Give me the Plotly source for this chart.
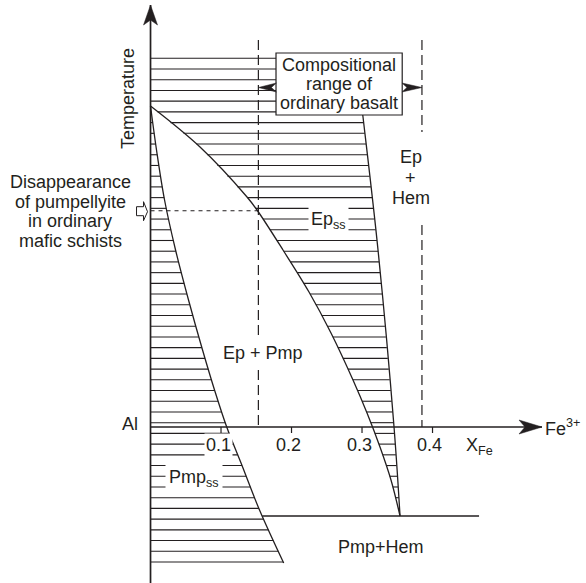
import numpy as np
import plotly.graph_objects as go

# ---- data (X_Fe composition, temperature in arbitrary relative units; 0 = composition axis) ----
ep_left_x = [0.000, 0.0702, 0.1369, 0.1511, 0.1879, 0.2248, 0.2560, 0.2872, 0.3071, 0.3255, 0.3411, 0.3539]
ep_left_t = [3.21, 2.80, 2.30, 2.17, 1.77, 1.35, 0.94, 0.47, 0.14, -0.20, -0.53, -0.89]
ep_right_x = [0.2915, 0.3014, 0.3227, 0.3454, 0.3539]
ep_right_t = [3.69, 3.10, 1.77, 0.00, -0.89]
pmp_x = [0.000, 0.0085, 0.0199, 0.0355, 0.0539, 0.0738, 0.0908, 0.1081, 0.1284, 0.1546, 0.1889]
pmp_t = [3.21, 2.77, 2.27, 1.77, 1.27, 0.77, 0.37, 0.00, -0.36, -0.83, -1.36]
pmp_hem_t = -0.89
pmp_hem_x_end = 0.466
basalt_range = [0.153, 0.385]
pmp_disappear_t = 2.163
hatch_top, hatch_bottom, hatch_count = 3.687, -1.35, 48
tick_values = [0.1, 0.2, 0.3, 0.4]
tick_labels = ["0.1", "0.2", "0.3", "0.4"]
t_axis_bottom, t_axis_top = -1.56, 4.22
x_axis_tip = 0.5553
dash_top = 3.87
ephem_gap = [2.02, 2.95]

INK = "#231f20"
FONT = "Liberation Sans, Arial, Helvetica, sans-serif"

peak_t = ep_left_t[0]
vertex_t = ep_left_t[-1]


def interp(t, xs, ts):
    return float(np.interp(t, ts[::-1], xs[::-1]))


# hatch segments
hx, hy = [], []
for t in np.linspace(hatch_top, hatch_bottom, hatch_count):
    if t > peak_t:
        hx += [0, interp(t, ep_right_x, ep_right_t), None]
        hy += [t, t, None]
    elif t >= vertex_t:
        hx += [interp(t, ep_left_x, ep_left_t), interp(t, ep_right_x, ep_right_t), None]
        hy += [t, t, None]
    if pmp_t[-1] <= t <= peak_t:
        hx += [0, interp(t, pmp_x, pmp_t), None]
        hy += [t, t, None]

fig = go.Figure()
fig.add_trace(go.Scatter(x=hx, y=hy, mode="lines", line=dict(color=INK, width=1.1), hoverinfo="skip"))
for xs, ts in [(ep_left_x, ep_left_t), (ep_right_x, ep_right_t), (pmp_x, pmp_t)]:
    fig.add_trace(go.Scatter(x=xs, y=ts, mode="lines", line=dict(color=INK, width=1.3, shape="spline", smoothing=1.0),
                             hoverinfo="skip"))
# Pmp + Hem boundary
fig.add_trace(go.Scatter(x=[interp(pmp_hem_t, pmp_x, pmp_t), pmp_hem_x_end], y=[pmp_hem_t, pmp_hem_t],
                         mode="lines", line=dict(color=INK, width=1.3), hoverinfo="skip"))
# axes
fig.add_trace(go.Scatter(x=[0, 0], y=[t_axis_bottom, t_axis_top], mode="lines", line=dict(color=INK, width=1.7),
                         hoverinfo="skip"))
fig.add_trace(go.Scatter(x=[0, x_axis_tip], y=[0, 0], mode="lines", line=dict(color=INK, width=1.7), hoverinfo="skip"))
# ticks
tx, ty = [], []
for v in tick_values:
    tx += [v, v, None]
    ty += [0, -0.06, None]
fig.add_trace(go.Scatter(x=tx, y=ty, mode="lines", line=dict(color=INK, width=1.2), hoverinfo="skip"))
# basalt compositional range (dashed)
fig.add_trace(go.Scatter(x=[basalt_range[0], basalt_range[0]], y=[dash_top, 0], mode="lines",
                         line=dict(color=INK, width=1.2, dash="10px,5px"), hoverinfo="skip"))
fig.add_trace(go.Scatter(x=[basalt_range[1], basalt_range[1], None, basalt_range[1], basalt_range[1]],
                         y=[dash_top, ephem_gap[1], None, ephem_gap[0], 0], mode="lines",
                         line=dict(color=INK, width=1.2, dash="10px,5px"), hoverinfo="skip"))
# dotted line: disappearance of pumpellyite
fig.add_trace(go.Scatter(x=[0, basalt_range[0]], y=[pmp_disappear_t, pmp_disappear_t], mode="lines",
                         line=dict(color=INK, width=1.1, dash="4px,4px"), hoverinfo="skip"))

shapes = []
# box
shapes.append(dict(type="rect", xref="x", yref="y", x0=0.178, x1=0.357, y0=3.12, y1=3.74,
                   fillcolor="white", line=dict(color=INK, width=1.2), layer="above"))


def head(xa, ya, path):
    return dict(type="path", xref="x", yref="y", xsizemode="pixel", ysizemode="pixel", xanchor=xa, yanchor=ya,
                path=path, fillcolor=INK, line=dict(color=INK, width=0.5), layer="above")


shapes.append(head(0, t_axis_top, "M0,0 L-7,-20 L0,-15 L7,-20 Z"))
shapes.append(head(x_axis_tip, 0, "M0,0 L-23,7 L-17,0 L-23,-7 Z"))
arrow_t = 3.395
shapes.append(head(basalt_range[0], arrow_t, "M0,0 L18,4.5 L13,0 L18,-4.5 Z"))
shapes.append(head(basalt_range[1], arrow_t, "M0,0 L-20,4.5 L-15,0 L-20,-4.5 Z"))
# hollow arrow pointing at the disappearance level
shapes.append(dict(type="path", xref="x", yref="y", xsizemode="pixel", ysizemode="pixel", xanchor=0,
                   yanchor=pmp_disappear_t,
                   path="M-3,-1 L-7,9 L-7,4 L-14,4 L-14,-5 L-7,-5 L-7,-10 Z",
                   fillcolor="white", line=dict(color=INK, width=1), layer="above"))

ann = []


def text(x, y, s, size=18, **kw):
    d = dict(x=x, y=y, xref="x", yref="y", text=s, showarrow=False, font=dict(family=FONT, size=size, color=INK))
    d.update(kw)
    ann.append(d)


text(-0.032, 3.29, "Temperature", textangle=-90)
for yy, s in zip([2.45, 2.255, 2.06, 1.865], ["Disappearance", "of pumpellyite", "in ordinary", "mafic schists"]):
    text(-0.114, yy, s)
for yy, s in zip([3.625, 3.435, 3.245], ["Compositional", "range of", "ordinary basalt"]):
    text(0.2674, yy, s)
for yy, s in zip([2.703, 2.49, 2.29], ["Ep", "+", "Hem"]):
    text(0.3692, yy, s)
text(0.1596, 0.74, "Ep + Pmp", bgcolor="white", borderpad=5)
text(0.2518, 2.07, "Ep<sub>ss</sub>", bgcolor="white", borderpad=2)
text(0.0617, -0.51, "Pmp<sub>ss</sub>", bgcolor="white", borderpad=3)
for v, lab in zip(tick_values, tick_labels):
    if v == tick_values[0]:
        text(v - 0.004, -0.18, lab, bgcolor="white", borderpad=1)
    else:
        text(v - 0.004, -0.18, lab)
text(-0.029, 0.03, "Al")
text(0.467, -0.19, "X<sub>Fe</sub>")
text(0.5567, 0.0, "Fe<sup>3+</sup>", xanchor="left")
text(0.327, -1.197, "Pmp+Hem")

fig.update_layout(
    width=586, height=583, margin=dict(l=0, r=0, t=0, b=0),
    paper_bgcolor="white", plot_bgcolor="white", showlegend=False,
    xaxis=dict(range=[-0.2135, 0.6177], visible=False),
    yaxis=dict(range=[-1.56, 4.27], visible=False),
    shapes=shapes, annotations=ann,
)
fig.write_html("out.html")
